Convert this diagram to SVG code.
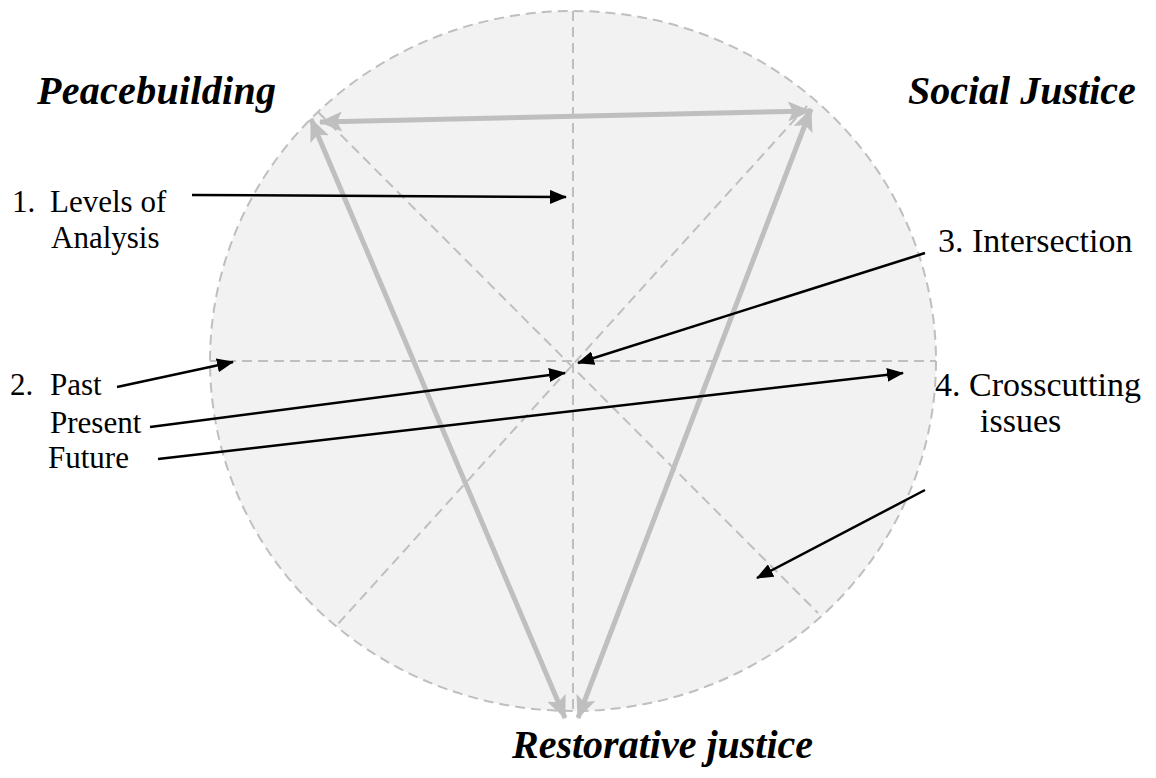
<svg xmlns="http://www.w3.org/2000/svg" width="1156" height="778" viewBox="0 0 1156 778">
<defs>
<marker id="ah" markerUnits="userSpaceOnUse" markerWidth="18" markerHeight="14" refX="16" refY="7" orient="auto">
<path d="M0,0 L17,7 L0,14 Z" fill="#000"/>
</marker>
<marker id="gh" markerUnits="userSpaceOnUse" markerWidth="24" markerHeight="20" refX="22" refY="10" orient="auto-start-reverse">
<path d="M0,0 L23,10 L0,20 L5,10 Z" fill="#bfbfbf"/>
</marker>
<style>
.dash{stroke:#bfbfbf;stroke-width:2;stroke-dasharray:10,6;fill:none}
.gray{stroke:#bfbfbf;stroke-width:5;fill:none}
.blk{stroke:#000;stroke-width:2.5;fill:none}
.lbl{font-family:"Liberation Serif","Times New Roman",serif;font-size:31px;fill:#000}
.lblr{font-family:"Liberation Serif","Times New Roman",serif;font-size:34px;fill:#000}
.ttl{font-family:"Liberation Serif","Times New Roman",serif;font-size:40px;font-weight:bold;font-style:italic;fill:#000}
</style>
</defs>
<g id="circle">
<ellipse cx="573" cy="361" rx="363" ry="350" class="dash" style="fill:#f2f2f2"/>
<line class="dash" x1="573" y1="11" x2="573" y2="711"/>
<line class="dash" x1="210" y1="361" x2="936" y2="361"/>
<line class="dash" x1="318" y1="112" x2="818" y2="613"/>
<line class="dash" x1="807" y1="106" x2="337" y2="625"/>
</g>
<g id="triangle">
<line class="gray" x1="320" y1="122" x2="810" y2="111" marker-start="url(#gh)" marker-end="url(#gh)"/>
<line class="gray" x1="311" y1="119" x2="565" y2="718" marker-start="url(#gh)" marker-end="url(#gh)"/>
<line class="gray" x1="811" y1="109" x2="578" y2="718" marker-start="url(#gh)" marker-end="url(#gh)"/>
</g>
<g id="connectors">
<line class="blk" x1="192" y1="195" x2="566" y2="197" marker-end="url(#ah)"/>
<line class="blk" x1="117" y1="387" x2="233" y2="362" marker-end="url(#ah)"/>
<line class="blk" x1="150" y1="427" x2="565" y2="373" marker-end="url(#ah)"/>
<line class="blk" x1="158" y1="459" x2="903" y2="373" marker-end="url(#ah)"/>
<line class="blk" x1="925" y1="253" x2="578" y2="363" marker-end="url(#ah)"/>
<line class="blk" x1="925" y1="490" x2="757" y2="578" marker-end="url(#ah)"/>
</g>
<g id="peacebuilding"><text class="ttl" x="37" y="104" textLength="239">Peacebuilding</text></g>
<g id="social-justice"><text class="ttl" x="908" y="104">Social Justice</text></g>
<g id="restorative-justice"><text class="ttl" x="512" y="758">Restorative justice</text></g>
<g id="label-1">
<text class="lbl" x="12" y="212">1.</text>
<text class="lbl" x="50" y="212">Levels of</text>
<text class="lbl" x="51" y="248">Analysis</text>
</g>
<g id="label-2">
<text class="lbl" x="10" y="395">2.</text>
<text class="lbl" x="50" y="395">Past</text>
<text class="lbl" x="50" y="433">Present</text>
<text class="lbl" x="48" y="468">Future</text>
</g>
<g id="label-3"><text class="lblr" x="938" y="252">3. Intersection</text></g>
<g id="label-4">
<text class="lblr" x="935" y="396">4. Crosscutting</text>
<text class="lblr" x="980" y="432">issues</text>
</g>
</svg>
